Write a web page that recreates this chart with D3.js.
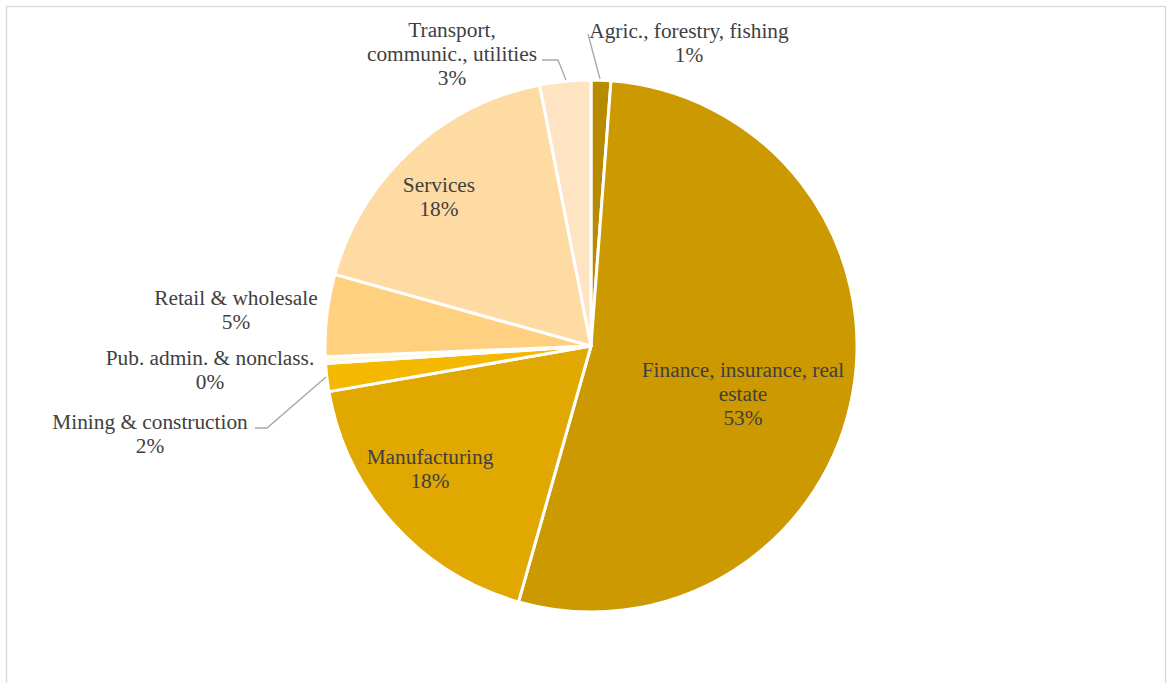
<!DOCTYPE html>
<html><head><meta charset="utf-8">
<script src="https://cdn.jsdelivr.net/npm/d3@7"></script>
<style>body{margin:0;background:#fff}svg{display:block}</style>
</head><body>
<svg id="c" width="1167" height="683"></svg>
<script>
const categories = ["Agric., forestry, fishing","Finance, insurance, real estate","Manufacturing","Mining & construction","Pub. admin. & nonclass.","Retail & wholesale","Services","Transport, communic., utilities"];
const values = [1.2, 53.3, 17.9, 1.7, 0.4, 5.0, 17.6, 3.1];
const colors = ["#B88A00","#CC9900","#E0A800","#F5B800","#FFF6E6","#FFD080","#FFDBA4","#FFE4C4"];
// label text lines (category split as in the original)
const labelLines = [["Agric., forestry, fishing"],["Finance, insurance, real","estate"],["Manufacturing"],["Mining & construction"],["Pub. admin. & nonclass."],["Retail & wholesale"],["Services"],["Transport,","communic., utilities"]];
// layout: label centre x and first-line y
const labelLayout = [[689,31],[743,370],[430,457],[150,422],[210,358],[236,298],[439,185],[452,30]];
const leaders = {0:[[588,34],[600,79]], 3:[[255,428],[267,428],[326,377]], 7:[[542,60],[558,60],[566,80]]};

const svg = d3.select("#c");
svg.append("rect").attr("x",6.5).attr("y",6.5).attr("width",1159).attr("height",700)
  .attr("fill","#fff").attr("stroke","#D9D9D9").attr("stroke-width",1.3);
const cx=591, cy=346, R=266;
const total = d3.sum(values);
const pie = d3.pie().sort(null).value(d=>d)(values);
const arc = d3.arc().innerRadius(0).outerRadius(R);
const g = svg.append("g").attr("transform",`translate(${cx},${cy})`);
g.selectAll("path").data(pie).join("path").attr("d",arc)
  .attr("fill",(d,i)=>colors[i]).attr("stroke","#fff").attr("stroke-width",3).attr("stroke-linejoin","round");

Object.entries(leaders).forEach(([i,pts])=>{
  svg.append("path").attr("d",d3.line()(pts)).attr("fill","none").attr("stroke","#A6A6A6").attr("stroke-width",1.3);
});
const fs=21.33, lh=24;
categories.forEach((c,i)=>{
  const [x,y]=labelLayout[i];
  const lines = labelLines[i].concat([Math.round(values[i]/total*100)+"%"]);
  const t = svg.append("text").attr("text-anchor","middle")
    .style("font-family","'Liberation Serif', 'Times New Roman', serif")
    .attr("font-size",fs).attr("fill","#404040");
  lines.forEach((l,k)=>t.append("tspan").attr("x",x).attr("y",y+k*lh).attr("dy","0.33em").text(l));
});
</script>
</body></html>
